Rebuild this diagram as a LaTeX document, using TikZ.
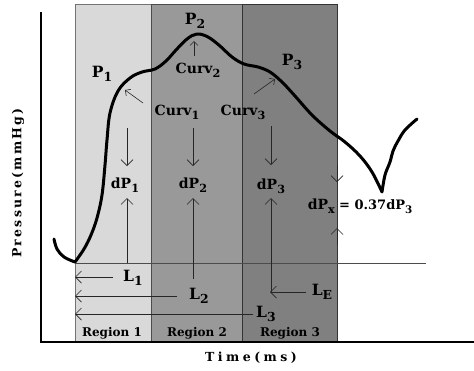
\documentclass[tikz,border=0pt]{standalone}
\usepackage{fontspec}
\setmainfont{DejaVu Serif}
\usetikzlibrary{arrows.meta}
\definecolor{regA}{RGB}{217,217,217}
\definecolor{regB}{RGB}{153,153,153}
\definecolor{regC}{RGB}{128,128,128}
\newcommand{\lsub}[1]{\raisebox{-.3em}{\scalebox{.8}{#1}}}

\begin{document}
\begin{tikzpicture}[x=1pt,y=-1pt,>={Straight Barb[length=6pt,width=12pt]},
  big/.style={font=\bfseries\fontsize{15.5}{15.5}\selectfont,inner sep=0pt},
  lbl/.style={font=\bfseries\fontsize{14}{14}\selectfont,inner sep=0pt},
  reg/.style={font=\bfseries\fontsize{12}{12}\selectfont,inner sep=0pt},
  ax/.style={font=\bfseries\fontsize{12.5}{12.5}\selectfont\addfontfeature{LetterSpace=18},inner sep=0pt},
  axt/.style={font=\bfseries\fontsize{12.5}{12.5}\selectfont\addfontfeature{LetterSpace=28},inner sep=0pt},
  arr/.style={->,black!85,line width=.7pt},
  sarr/.style={-{Straight Barb[length=4pt,width=8pt]},black!85,line width=.6pt},
  wave/.style={line width=3pt,line cap=round,line join=round}]
\useasboundingbox[fill=white] (0,0) rectangle (474,370);
% regions
\filldraw[fill=regA,draw=black!55,line width=.8pt] (75,4) rectangle (151,342);
\filldraw[fill=regB,draw=black!70,line width=.8pt] (151,4) rectangle (242,342);
\filldraw[fill=regC,draw=black!80,line width=1pt] (242,4) rectangle (337,342);
\draw[black!70,line width=.8pt] (75,263) -- (426,263);
% axes
\draw[line width=2pt] (41,12) -- (41,342) -- (474,342);
\node[ax,rotate=90] (ylab) at (18,183) {Pressure(mmHg)};
\node[axt] (xlab) at (251,358) {Time(ms)};
% pressure wave
\draw[wave] plot[smooth,tension=.6] coordinates {(54,239) (57,249) (64,257) (75,262)}
  -- plot[smooth,tension=.6] coordinates {(75,262) (84,249) (91,235) (97,218) (102,195)
  (105,165) (107,140) (110,113) (118,91) (130,78) (142,72) (155,69) (166,61) (176,50)
  (187,39) (197,34) (208,37) (220,46) (232,57) (244,64) (258,67) (270,72) (282,82)
  (295,96) (312,115) (330,131) (345,142) (360,156) (372,172) (382,192)}
  -- plot[smooth,tension=.6] coordinates {(382,192) (385,175) (390,162) (393,151)
  (398,141) (405,130) (417,119)};
% labels
\node[big] (p1) at (102,74) {P\lsub{1}};
\node[big] (p2) at (195,21) {P\lsub{2}};
\node[big] (p3) at (292,62) {P\lsub{3}};
\node[lbl] (c1) at (177,112) {Curv\lsub{1}};
\node[lbl] (c2) at (198,70) {Curv\lsub{2}};
\node[lbl] (c3) at (243,112) {Curv\lsub{3}};
\coordinate (c1a) at (143,103); \coordinate (c1b) at (125,90);
\coordinate (c2a) at (194,56);  \coordinate (c2b) at (194,41);
\coordinate (c3a) at (254,94);  \coordinate (c3b) at (275,79);
\draw[sarr] (c1a) -- (c1b);
\draw[sarr] (c2a) -- (c2b);
\draw[sarr] (c3a) -- (c3b);
% pressure drops
\node[lbl] (dp1) at (125,185) {dP\lsub{1}};
\node[lbl] (dp2) at (193,185) {dP\lsub{2}};
\node[lbl] (dp3) at (271,186) {dP\lsub{3}};
\coordinate (d1t) at (127,128); \coordinate (d1b) at (127,263);
\coordinate (d2t) at (193,128); \coordinate (d2b) at (193,279);
\coordinate (d3t) at (271,126); \coordinate (d3b) at (271,292);
\draw[arr] (d1t) -- (127,166);
\draw[arr] (d1b) -- (127,198);
\draw[arr] (d2t) -- (193,166);
\draw[arr] (d2b) -- (193,198);
\draw[arr] (d3t) -- (271,165);
\draw[arr] (d3b) -- (271,198);
\node[lbl,anchor=east] (dpx) at (335,206) {dP\lsub{x}};
\node[font=\bfseries\fontsize{13}{13}\selectfont,inner sep=0pt,anchor=west] (dpxv) at (339,207) {= 0.37dP\lsub{3}};
\coordinate (x1) at (337,165); \coordinate (x2) at (337,182);
\coordinate (x3) at (337,245); \coordinate (x4) at (337,228);
\draw[arr] (x1) -- (x2);
\draw[arr] (x3) -- (x4);
% lengths
\node[big] (l1) at (133,278) {L\lsub{1}};
\node[big] (l2) at (199,296) {L\lsub{2}};
\node[big] (l3) at (266,314) {L\lsub{3}};
\node[big] (le) at (322,292) {L\lsub{E}};
\coordinate (o1) at (75,277); \coordinate (o2) at (75,296);
\coordinate (o3) at (75,314); \coordinate (oe) at (270,292);
\draw[arr] (113,277) -- (o1);
\draw[arr] (177,296) -- (o2);
\draw[arr] (253,314) -- (o3);
\draw[arr] (306,292) -- (oe);
% region names
\node[reg] (r1) at (112,333) {Region 1};
\node[reg] (r2) at (197,333) {Region 2};
\node[reg] (r3) at (290,333) {Region 3};
\end{tikzpicture}
\end{document}
